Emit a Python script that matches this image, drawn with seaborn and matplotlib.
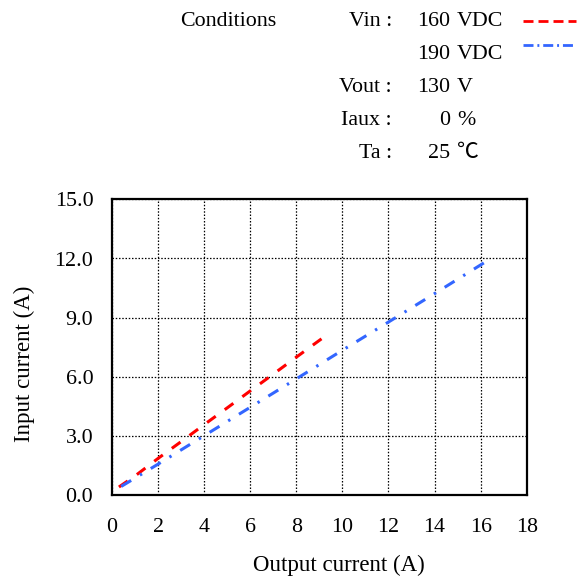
import matplotlib
matplotlib.use("Agg")
import matplotlib.pyplot as plt
from matplotlib.lines import Line2D
import seaborn as sns
import pandas as pd

# Input current vs output current at two input voltages
iout_160 = [0.3, 1.0, 2.0, 3.0, 4.0, 5.0, 6.0, 7.0, 8.0, 9.2]
iin_160 = [0.42, 0.98, 1.87, 2.72, 3.58, 4.43, 5.29, 6.14, 7.00, 8.02]

iout_190 = [0.4, 2.0, 4.0, 6.0, 8.0, 10.0, 12.0, 14.0, 16.2]
iin_190 = [0.45, 1.58, 3.02, 4.46, 5.90, 7.35, 8.78, 10.22, 11.82]

x_ticks = [0, 2, 4, 6, 8, 10, 12, 14, 16, 18]
y_ticks = [0.0, 3.0, 6.0, 9.0, 12.0, 15.0]

cond_labels = ["Vin :", "", "Vout :", "Iaux :", "Ta :"]
cond_values = ["160", "190", "130", "0", "25"]
cond_units = ["VDC", "VDC", "V", "%", "\u2103"]

RED = "#FF0000"
BLUE = "#3366FF"
FS = 15.8
FS_LABEL = 16.5

DASH_RED = (0, (3.5, 3.65))
DASH_BLUE = (0, (3.8, 3.35, 0.8, 3.35))

sns.set_theme(style="white")
plt.rcParams["font.family"] = ["Liberation Serif", "Noto Sans CJK JP", "DejaVu Sans"]
plt.rcParams["text.color"] = "black"
plt.rcParams["axes.labelcolor"] = "black"
plt.rcParams["xtick.color"] = "black"
plt.rcParams["ytick.color"] = "black"

W, H = 582, 581
fig = plt.figure(figsize=(W / 100, H / 100), dpi=100)
ax = fig.add_axes([112 / W, 1 - 495.3 / H, (526.7 - 112) / W, (495.3 - 199.3) / H])

df160 = pd.DataFrame({"Iout": iout_160, "Iin": iin_160})
df190 = pd.DataFrame({"Iout": iout_190, "Iin": iin_190})

sns.lineplot(data=df160, x="Iout", y="Iin", ax=ax, color=RED, linewidth=2.2,
             linestyle=DASH_RED, dash_capstyle="butt", zorder=3)
sns.lineplot(data=df190, x="Iout", y="Iin", ax=ax, color=BLUE, linewidth=2.2,
             linestyle=DASH_BLUE, dash_capstyle="butt", zorder=3)

ax.set_xlim(0, 18)
ax.set_ylim(0, 15)
ax.set_xticks(x_ticks)
ax.set_yticks(y_ticks)
ax.set_xticklabels([str(t) for t in x_ticks], fontsize=FS)
ax.set_yticklabels([f"{t:.1f}" for t in y_ticks], fontsize=FS)
ax.tick_params(axis="both", length=0, colors="black", labelcolor="black")
ax.tick_params(axis="y", pad=13.5)
ax.tick_params(axis="x", pad=16)

ax.grid(True, color="black", linestyle=(0, (1.2, 1.4)), linewidth=0.9)
ax.set_axisbelow(True)
for sp in ax.spines.values():
    sp.set_color("black")
    sp.set_linewidth(1.6)

ax.set_xlabel("Output current (A)", fontsize=FS_LABEL, color="black")
ax.set_ylabel("Input current (A)", fontsize=FS_LABEL, color="black")
ax.xaxis.set_label_coords(0.548, -0.2)
ax.yaxis.set_label_coords(-0.186, 0.445)


def fx(px):
    return px / W


def fy(py):
    return 1 - py / H


# Conditions block
fig.text(fx(180), fy(26), "Conditions", fontsize=FS, ha="left", va="baseline", color="black")
baselines = [26, 59, 92, 125, 158]
for lab, val, unit, yb in zip(cond_labels, cond_values, cond_units, baselines):
    if lab:
        fig.text(fx(392), fy(yb), lab, fontsize=FS, ha="right", va="baseline", color="black")
    fig.text(fx(450), fy(yb), val, fontsize=FS, ha="right", va="baseline", color="black")
    fig.text(fx(457), fy(yb), unit, fontsize=FS, ha="left", va="baseline", color="black")

# Line keys next to the input voltages
fig.add_artist(Line2D([fx(523), fx(576)], [fy(20.5), fy(20.5)], color=RED,
                      linewidth=2.0, linestyle=(0, (3.6, 1.8)), transform=fig.transFigure))
fig.add_artist(Line2D([fx(523), fx(576)], [fy(45), fy(45)], color=BLUE,
                      linewidth=2.0, linestyle=(0, (3.6, 1.4, 0.7, 1.4)), transform=fig.transFigure))

fig.savefig("out.png", dpi=100, facecolor="white")
